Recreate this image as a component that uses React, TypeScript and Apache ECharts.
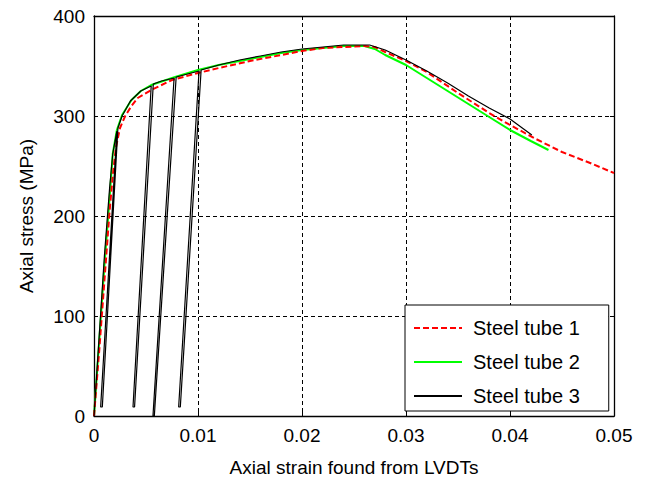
import React, { useEffect, useRef } from "react";
import * as echarts from "echarts";

const xTicks = [0, 0.01, 0.02, 0.03, 0.04, 0.05];
const yTicks = [0, 100, 200, 300, 400];
const seriesNames = ["Steel tube 1", "Steel tube 2", "Steel tube 3"];

// Steel tube 1 (red dashed)
const tube1: [number, number][] = [
  [0, 0], [0.0005, 65], [0.001, 135], [0.0015, 205], [0.0018, 240], [0.0021, 268],
  [0.0025, 288], [0.003, 300], [0.0036, 310], [0.0042, 318], [0.0055, 326], [0.0075, 336],
  [0.01, 343], [0.012, 348], [0.015, 355], [0.018, 361], [0.02, 365], [0.022, 368],
  [0.024, 369], [0.026, 370], [0.027, 369], [0.028, 364], [0.03, 355], [0.032, 344],
  [0.035, 323], [0.038, 303], [0.04, 291], [0.0425, 277], [0.045, 264], [0.0477, 253],
  [0.05, 243],
];

// Steel tube 2 (green)
const tube2: [number, number][] = [
  [0, 0], [0.0005, 75], [0.001, 150], [0.0015, 218], [0.0018, 262], [0.0022, 286],
  [0.0027, 301], [0.0036, 316], [0.0045, 325], [0.0055, 331], [0.0078, 339], [0.01, 346],
  [0.012, 351], [0.015, 357], [0.018, 363], [0.02, 366], [0.022, 368], [0.024, 370],
  [0.026, 370], [0.027, 367], [0.028, 361], [0.03, 351], [0.032, 338], [0.034, 325],
  [0.036, 312], [0.038, 299], [0.04, 286], [0.042, 275], [0.0437, 266],
];

// Steel tube 3 (black, with unloading/reloading cycles)
const tube3: [number, number][] = [
  [0, 0], [0.0005, 80], [0.001, 160], [0.0015, 228], [0.0018, 262], [0.0022, 285],
  [0.00064, 9], [0.0008, 9], [0.0023, 288], [0.0027, 300], [0.0035, 315], [0.0045, 325], [0.0055, 330],
  [0.00375, 9], [0.0039, 9], [0.0057, 332], [0.0065, 335], [0.0077, 338],
  [0.00567, 0], [0.0058, 0], [0.0079, 339], [0.009, 342], [0.0101, 345],
  [0.00814, 9], [0.0083, 9], [0.0103, 346], [0.012, 351], [0.014, 356], [0.016, 360], [0.018, 364],
  [0.02, 367], [0.022, 369], [0.024, 371], [0.0265, 371], [0.028, 366], [0.03, 356],
  [0.032, 345], [0.034, 333], [0.036, 320], [0.038, 308], [0.04, 297], [0.0421, 281],
];

const FONT = "'Liberation Sans', Arial, sans-serif";

export default function App() {
  const ref = useRef<HTMLDivElement>(null);
  useEffect(() => {
    if (!ref.current) return;
    const chart = echarts.init(ref.current, undefined, { renderer: "svg" });
    const tick = { show: true, inside: true, length: 4, lineStyle: { color: "#000", width: 1 } };
    const axLine = { show: true, onZero: false, lineStyle: { color: "#000", width: 1.3 } };
    const split = { show: true, lineStyle: { color: "#000", width: 1, type: [4, 3] as any } };
    chart.setOption({
      animation: false,
      backgroundColor: "#fff",
      textStyle: { fontFamily: FONT },
      grid: { left: 94, right: 35, top: 16, bottom: 61, outerBoundsMode: "none", containLabel: false },
      xAxis: [
        {
          type: "value", min: xTicks[0], max: xTicks[xTicks.length - 1], interval: 0.01,
          position: "bottom",
          name: "Axial strain found from LVDTs", nameLocation: "middle", nameGap: 42,
          nameTextStyle: { fontSize: 19, color: "#000", fontFamily: FONT },
          axisLine: axLine, axisTick: tick, splitLine: split,
          axisLabel: { fontSize: 19, color: "#000", margin: 10, fontFamily: FONT,
            formatter: (v: number) => (v === 0 ? "0" : String(+v.toFixed(2))) },
        },
        {
          type: "value", min: xTicks[0], max: xTicks[xTicks.length - 1], interval: 0.01,
          position: "top", axisLine: axLine, axisTick: tick, splitLine: { show: false },
          axisLabel: { show: false },
        },
      ],
      yAxis: [
        {
          type: "value", min: yTicks[0], max: yTicks[yTicks.length - 1], interval: 100,
          position: "left",
          name: "Axial stress (MPa)", nameLocation: "middle", nameGap: 58,
          nameTextStyle: { fontSize: 19, color: "#000", fontFamily: FONT },
          axisLine: axLine, axisTick: tick, splitLine: split,
          axisLabel: { fontSize: 19, color: "#000", margin: 9, fontFamily: FONT },
        },
        {
          type: "value", min: yTicks[0], max: yTicks[yTicks.length - 1], interval: 100,
          position: "right", axisLine: axLine, axisTick: tick, splitLine: { show: false },
          axisLabel: { show: false },
        },
      ],
      legend: {
        orient: "vertical", left: 405, top: 305,
        padding: [12, 29, 4, 8],
        itemWidth: 48, itemHeight: 12, itemGap: 12,
        backgroundColor: "#fff", borderColor: "#000", borderWidth: 1,
        itemStyle: { opacity: 0 },
        textStyle: { fontSize: 20, color: "#000", fontFamily: FONT, lineHeight: 22, padding: [0, 0, 0, 6] },
        data: seriesNames,
      },
      series: [
        {
          name: seriesNames[0], type: "line", data: tube1, symbol: "none", z: 3,
          lineStyle: { color: "#ff0000", width: 2, type: [6, 3] },
          itemStyle: { color: "#ff0000" },
        },
        {
          name: seriesNames[1], type: "line", data: tube2, symbol: "none", z: 2,
          lineStyle: { color: "#00ff00", width: 2 },
          itemStyle: { color: "#00ff00" },
        },
        {
          name: seriesNames[2], type: "line", data: tube3, symbol: "none", z: 4,
          lineStyle: { color: "#000", width: 1.2 },
          itemStyle: { color: "#000" },
        },
      ],
    });
    return () => chart.dispose();
  }, []);
  return <div ref={ref} style={{ width: 649, height: 477, position: "absolute", left: 0, top: 0 }} />;
}
